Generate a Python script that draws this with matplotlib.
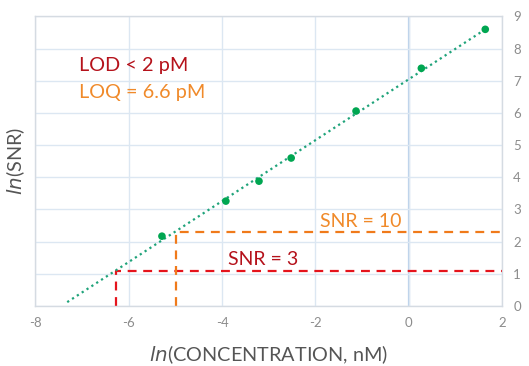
import numpy as np
import matplotlib
matplotlib.use("Agg")
import matplotlib.pyplot as plt

# --- data ---
ln_conc = [-5.29, -3.92, -3.21, -2.52, -1.13, 0.27, 1.64]
ln_snr = [2.17, 3.26, 3.88, 4.60, 6.06, 7.39, 8.60]

fit_x = [-7.32, 1.64]
fit_y = [0.12, 8.60]

lod_x, lod_y = -6.27, np.log(3)    # SNR = 3
loq_x, loq_y = -4.99, np.log(10)   # SNR = 10

x_ticks = [-8, -6, -4, -2, 0, 2]
y_ticks = list(range(0, 10))

# --- colours ---
green = "#00A651"
teal = "#1FA37A"
red = "#E5141C"
dark_red = "#B5121B"
orange = "#F07A1A"
orange_txt = "#F08A2A"
grid_c = "#DCE7F2"
gray = "#8C8C8C"

plt.rcParams['font.family'] = ['Lato', 'DejaVu Sans']
plt.rcParams['axes.unicode_minus'] = False

fig = plt.figure(figsize=(5.29, 3.66), dpi=100)
ax = fig.add_axes([0.0671, 0.164, 0.882, 0.791])

ax.set_xlim(-8, 2)
ax.set_ylim(0, 9)
ax.set_xticks(x_ticks)
ax.set_yticks(y_ticks)
ax.grid(True, color=grid_c, linewidth=1.0, zorder=0)
ax.axvline(0, color="#B9D0EA", linewidth=1.6, zorder=1)

ax.yaxis.tick_right()
ax.tick_params(axis='both', length=0, colors=gray, labelsize=9.5)
ax.tick_params(axis='x', pad=8)
ax.tick_params(axis='y', pad=8)
ax.set_yticklabels([str(t) for t in y_ticks])
ax.set_xticklabels([str(t) for t in x_ticks])
for s in ax.spines.values():
    s.set_color("#D5DBE2")
    s.set_linewidth(1.0)

# fit line and points
ax.plot(fit_x, fit_y, linestyle=(0, (1, 1.6)), color=teal, linewidth=1.6, zorder=3)
ax.scatter(ln_conc, ln_snr, color=green, s=30, zorder=4, edgecolors='none')

# LOD / LOQ guides
ax.plot([lod_x, lod_x, 2], [0, lod_y, lod_y], color=red, linestyle=(0, (4, 3)),
        linewidth=1.6, zorder=2, clip_on=False)
ax.plot([loq_x, loq_x, 2], [0, loq_y, loq_y], color=orange, linestyle=(0, (4, 3)),
        linewidth=1.6, zorder=2, clip_on=False)

ax.text(-1.90, 2.64, "SNR = 10", color=orange_txt, fontsize=14, va='center', ha='left')
ax.text(-3.87, 1.46, "SNR = 3", color=dark_red, fontsize=14, va='center', ha='left')
ax.text(-7.07, 7.48, "LOD < 2 pM", color=dark_red, fontsize=14.3, va='center', ha='left')
ax.text(-7.07, 6.65, "LOQ = 6.6 pM", color=orange_txt, fontsize=14.3, va='center', ha='left')

ax.set_xlabel(r"$\it{ln}$(CONCENTRATION, nM)", color="#555555", fontsize=14.3, labelpad=10)
ax.set_ylabel(r"$\it{ln}$(SNR)", color="#555555", fontsize=14.3, labelpad=6)

fig.savefig("out.png", dpi=100)
